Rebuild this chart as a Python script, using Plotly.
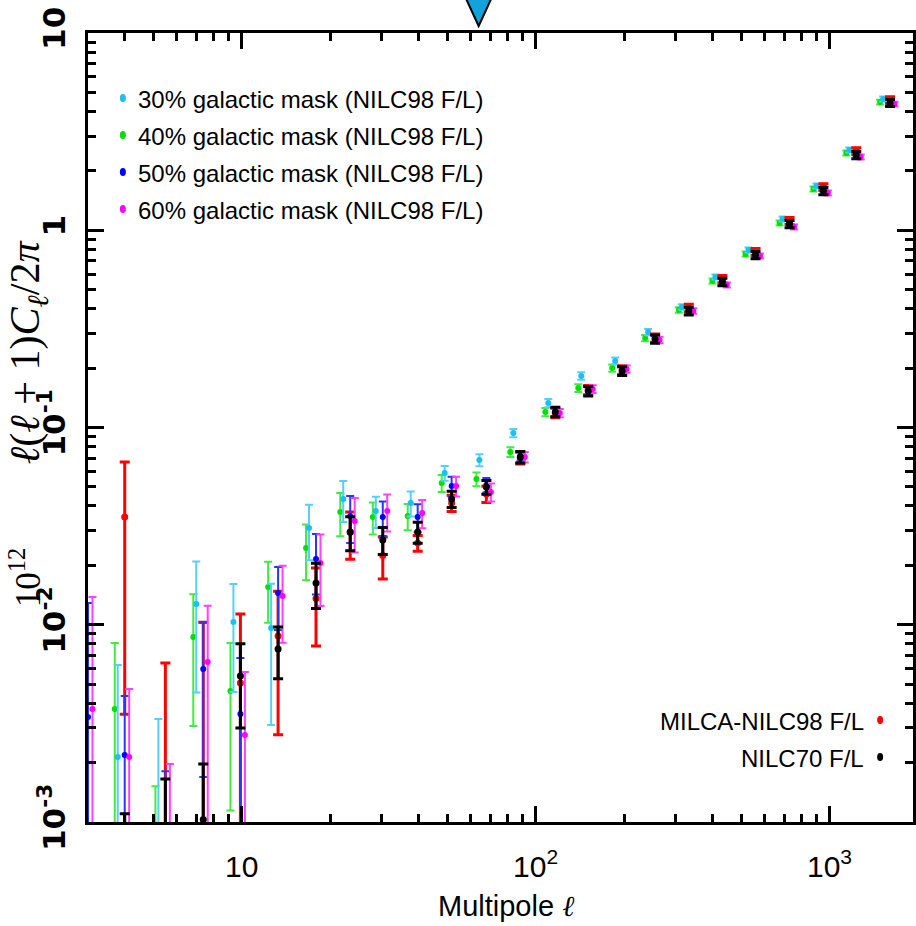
import math
import plotly.graph_objects as go

# Multipole bin centres
ELL = [3.0, 4.0, 5.5, 7.4, 9.9, 13.3, 17.9, 23.4, 30.2, 39.7, 51.8, 68.0,
       88.7, 116.7, 151.0, 197.0, 255.0, 332.0, 432.0, 560.0, 731.0, 953.0,
       1233.0, 1607.0]

# 10^12 l(l+1)C_l/2pi per bin, with 1-sigma errors
MASK30 = [None, 0.002135, 0.0008, 0.01274, 0.01033, 0.00963, 0.03094, 0.04341,
          0.03773, 0.04143, 0.05878, 0.06842, 0.09378, 0.1331, 0.1824, 0.2174,
          0.3049, 0.4083, 0.5794, 0.7943, 1.140, 1.676, 2.552, 4.629]
MASK30_ERR = [None, 0.00412, 0.00253, 0.0082, 0.00577, 0.00653, 0.0097, 0.0102,
              0.0068, 0.0060, 0.0051, 0.0048, 0.0045, 0.0064, 0.0080, 0.0090,
              0.0110, 0.0130, 0.017, 0.023, 0.033, 0.048, 0.073, 0.13]

MASK40 = [None, 0.00374, 0.0005, 0.008668, 0.004614, 0.01554, 0.02449, 0.03729,
          0.03518, 0.03558, 0.05232, 0.05481, 0.07511, 0.1199, 0.1585, 0.2003,
          0.2842, 0.3942, 0.5530, 0.7580, 1.088, 1.619, 2.464, 4.469]
MASK40_ERR = [None, 0.00434, 0.00102, 0.0056, 0.00347, 0.0053, 0.0077, 0.0092,
              0.0065, 0.0054, 0.0052, 0.0044, 0.0043, 0.0057, 0.0072, 0.0085,
              0.0105, 0.0125, 0.016, 0.022, 0.031, 0.046, 0.070, 0.125]

MASK50 = [0.003406, 0.002186, 0.0006, 0.00597, 0.00353, 0.0145, 0.02154, 0.03546,
          0.03518, 0.03518, 0.05052, 0.05111, 0.07167, 0.1199, 0.1531, 0.1957,
          0.2810, 0.3942, 0.5530, 0.7580, 1.088, 1.619, 2.464, 4.522]
MASK50_ERR = [0.0095, 0.00217, 0.00121, 0.00428, 0.00325, 0.0051, 0.0073, 0.0095,
              0.0070, 0.0057, 0.0058, 0.0043, 0.0042, 0.0057, 0.0070, 0.0083,
              0.0104, 0.0125, 0.016, 0.022, 0.031, 0.046, 0.070, 0.125]

MASK60 = [0.00374, 0.002135, 0.0006, 0.00647, 0.00276, 0.0140, 0.02056, 0.03357,
          0.03773, 0.03685, 0.0505, 0.0471, 0.07084, 0.1185, 0.1567, 0.1980,
          0.2778, 0.3896, 0.5279, 0.7406, 1.039, 1.544, 2.352, 4.366]
MASK60_ERR = [0.01008, 0.00259, 0.00137, 0.0060, 0.0030, 0.0059, 0.0081, 0.0103,
              0.0080, 0.0060, 0.0058, 0.0049, 0.0043, 0.0057, 0.0071, 0.0084,
              0.0103, 0.0124, 0.016, 0.022, 0.030, 0.045, 0.068, 0.122]

MILCA = [None, 0.03518, 0.0008, 0.0008, 0.00507, 0.00877, 0.0136, 0.0294,
         0.02246, 0.02597, 0.04143, 0.04602, 0.07003, 0.1185, 0.1549, 0.1957,
         0.2842, 0.4035, 0.5661, 0.7758, 1.114, 1.657, 2.522, 4.575]
MILCA_ERR = [None, 0.03166, 0.0056, 0.0095, 0.00627, 0.0060, 0.0058, 0.0079,
             0.0054, 0.0024, 0.0039, 0.0043, 0.0048, 0.0066, 0.0085, 0.0100,
             0.0135, 0.018, 0.024, 0.032, 0.045, 0.066, 0.10, 0.18]

NILC70 = [None, 0.0004, 0.0006, 0.00103, 0.0055, 0.00753, 0.01628, 0.02953,
          0.0269, 0.02953, 0.04341, 0.04994, 0.07084, 0.1199, 0.1531, 0.1934,
          0.2810, 0.3896, 0.5466, 0.7492, 1.076, 1.581, 2.407, 4.417]
NILC70_ERR = [None, 0.0007, 0.00105, 0.00094, 0.0025, 0.0022, 0.0042, 0.0058,
              0.0042, 0.0036, 0.0041, 0.0040, 0.0048, 0.0066, 0.0085, 0.0100,
              0.0135, 0.018, 0.024, 0.032, 0.045, 0.066, 0.10, 0.18]

MASK_LABELS = ["30% galactic mask (NILC98 F/L)", "40% galactic mask (NILC98 F/L)",
               "50% galactic mask (NILC98 F/L)", "60% galactic mask (NILC98 F/L)"]
METHOD_LABELS = ["MILCA-NILC98 F/L", "NILC70 F/L"]

X_TICKS = [10, 100, 1000]
X_TICKTEXT = ["10", "10<sup>2</sup>", "10<sup>3</sup>"]
Y_TICKS = [0.001, 0.01, 0.1, 1, 10]
Y_TICKTEXT = ["10<sup>-3</sup>", "10<sup>-2</sup>", "10<sup>-1</sup>", "1", "10"]

X_MIN, X_MAX = 3.0, 1923.0
Y_MIN, Y_MAX = 1e-3, 10.0
MARKED_ELL = 64.0  # position of the triangle marker above the frame

SANS = "Liberation Sans, Arial, Helvetica, sans-serif"
BOLD = "DejaVu Sans, Verdana, sans-serif"
SERIF = "Liberation Serif, Times New Roman, serif"

CYAN, CYAN_BAR = "#1cbff2", "#55cfff"
GREEN, GREEN_BAR = "#00e000", "#40ec40"
BLUE, BLUE_BAR = "#0000ff", "#2a35ff"
MAGENTA, MAGENTA_BAR = "#ff00ff", "#ff40ff"
RED, BLACK = "#ff0000", "#000000"

# drawing order (back to front); dodge spreads the masks around each bin centre
series = [
    dict(y=MASK40, err=MASK40_ERR, dodge=0.925, mc=GREEN, ec=GREEN_BAR, t=2, w=4, s=6),
    dict(y=MASK30, err=MASK30_ERR, dodge=0.9468, mc=CYAN, ec=CYAN_BAR, t=2, w=4, s=6),
    dict(y=MILCA, err=MILCA_ERR, dodge=1.0, mc=RED, ec=RED, t=3, w=5, s=7),
    dict(y=MASK50, err=MASK50_ERR, dodge=1.0, mc=BLUE, ec=BLUE_BAR, t=2, w=4, s=6),
    dict(y=MASK60, err=MASK60_ERR, dodge=1.0357, mc=MAGENTA, ec=MAGENTA_BAR, t=2, w=4, s=6),
    dict(y=NILC70, err=NILC70_ERR, dodge=1.0, mc=BLACK, ec=BLACK, t=3, w=5, s=7),
]

fig = go.Figure()
for s in series:
    fig.add_trace(go.Scatter(
        x=[l * s["dodge"] for l in ELL],
        y=s["y"],
        mode="markers",
        marker=dict(color=s["mc"], size=s["s"], line=dict(width=0)),
        error_y=dict(type="data", array=s["err"], visible=True,
                     color=s["ec"], thickness=s["t"], width=s["w"]),
        showlegend=False,
        hoverinfo="x+y",
    ))

x_minor = [k * 10 ** n for n in range(0, 4) for k in range(2, 10)
           if X_MIN < k * 10 ** n < X_MAX]
y_minor = [k * 10.0 ** n for n in range(-3, 1) for k in range(2, 10)]

axis_common = dict(
    type="log", showline=True, linecolor="black", linewidth=3, mirror="ticks",
    ticks="inside", ticklen=16, tickwidth=3, tickcolor="black",
    tickmode="array", showgrid=False, zeroline=False,
)

fig.update_xaxes(
    **axis_common,
    range=[math.log10(X_MIN), math.log10(X_MAX)],
    tickvals=X_TICKS, ticktext=X_TICKTEXT,
    tickfont=dict(family=SANS, size=30, color="black"),
    ticklabelstandoff=16,
    minor=dict(ticks="inside", ticklen=8, tickwidth=3, tickcolor="black",
               tickmode="array", tickvals=x_minor, showgrid=False),
)
fig.update_yaxes(
    **axis_common,
    range=[math.log10(Y_MIN), math.log10(Y_MAX)],
    tickvals=Y_TICKS, ticktext=Y_TICKTEXT, tickangle=-90,
    tickfont=dict(family=BOLD, size=31, color="black", weight="bold"),
    ticklabelstandoff=8,
    minor=dict(ticks="inside", ticklen=8, tickwidth=3, tickcolor="black",
               tickmode="array", tickvals=y_minor, showgrid=False),
)

ML, MR, MT, MB = 88, 0, 33, 104
W, H = 916, 926
PW, PH = W - ML - MR, H - MT - MB


def px_x(p):
    return (p - ML) / PW


def px_y(p):
    return (H - MB - p) / PH


annotations = []
shapes = []

# mask legend, top left
legend_colors = [CYAN, GREEN, BLUE, MAGENTA]
legend_rows = [98, 135, 172, 209]
for label, col, row in zip(MASK_LABELS, legend_colors, legend_rows):
    shapes.append(dict(type="circle", xref="paper", yref="paper",
                       xsizemode="pixel", ysizemode="pixel",
                       xanchor=px_x(123), yanchor=px_y(row),
                       x0=-3, x1=3, y0=-4, y1=4,
                       fillcolor=col, line=dict(width=0)))
    annotations.append(dict(text=label, xref="paper", yref="paper",
                            x=px_x(136), y=px_y(row + 1), xanchor="left",
                            yanchor="middle", showarrow=False,
                            font=dict(family=SANS, size=24, color="black")))

# method legend, bottom right
for label, col, row in zip(METHOD_LABELS, [RED, BLACK], [720, 757]):
    shapes.append(dict(type="circle", xref="paper", yref="paper",
                       xsizemode="pixel", ysizemode="pixel",
                       xanchor=px_x(883), yanchor=px_y(row),
                       x0=-3, x1=3, y0=-4, y1=4,
                       fillcolor=col, line=dict(width=0)))
    annotations.append(dict(text=label, xref="paper", yref="paper",
                            x=px_x(869), y=px_y(row + 1), xanchor="right",
                            yanchor="middle", showarrow=False,
                            font=dict(family=SANS, size=24, color="black")))

# axis titles
annotations.append(dict(
    text="Multipole <span style='font-family:Liberation Serif'><i>ℓ</i></span>",
    xref="paper", yref="paper", x=px_x(508), y=px_y(906), xanchor="center",
    yanchor="middle", showarrow=False,
    font=dict(family=SANS, size=29, color="black")))
annotations.append(dict(
    text="<i>ℓ</i>(<i>ℓ</i> + 1)<i>C</i><sub><i>ℓ</i></sub>/2<i>π</i>",
    xref="paper", yref="paper", x=px_x(28), y=px_y(352), xanchor="center",
    yanchor="middle", textangle=-90, showarrow=False,
    font=dict(family=SERIF, size=42, color="black")))
annotations.append(dict(
    text="10<sup>12</sup>",
    xref="paper", yref="paper", x=px_x(25), y=px_y(577), xanchor="center",
    yanchor="middle", textangle=-90, showarrow=False,
    font=dict(family=SERIF, size=35, color="black")))

# triangle marker above the frame
lx0, lx1 = math.log10(X_MIN), math.log10(X_MAX)
tri_x = (math.log10(MARKED_ELL) - lx0) / (lx1 - lx0)
shapes.append(dict(type="path", xref="paper", yref="paper",
                   xsizemode="pixel", ysizemode="pixel",
                   xanchor=tri_x, yanchor=1,
                   path="M -18,46 L 18,46 L 0,7 Z",
                   fillcolor="#13a3dc", line=dict(color="black", width=2)))

fig.update_layout(
    width=W, height=H,
    margin=dict(l=ML, r=MR, t=MT, b=MB, pad=0),
    plot_bgcolor="white", paper_bgcolor="white",
    showlegend=False,
    annotations=annotations, shapes=shapes,
)

fig.write_html("out.html")
